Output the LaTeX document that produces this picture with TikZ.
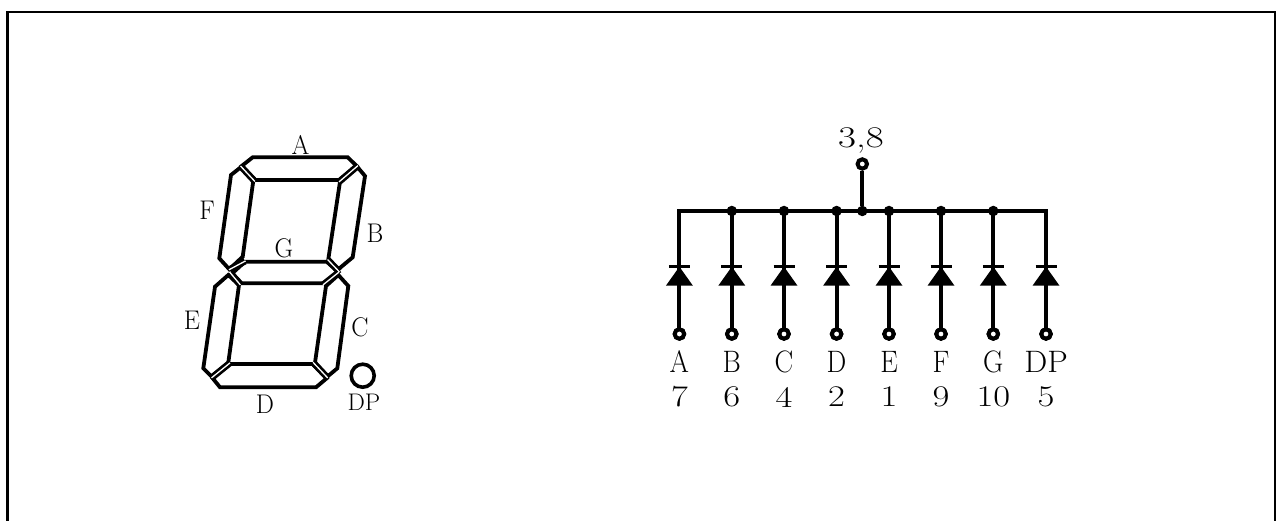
\documentclass[tikz,border=0pt]{standalone}
\usepackage{fontspec}
\setmainfont{Latin Modern Roman}
\begin{document}
\begin{tikzpicture}[x=1pt,y=-1pt,
  seg/.style={draw=black,line width=3.8pt,line join=miter,fill=white},
  gapblack/.style={draw=black,line width=6.6pt},
  gapwhite/.style={draw=white,line width=1.3pt,line cap=rect},
  wire/.style={draw=black,line width=4pt},
  framepath/.style={draw=black,line width=2.6pt,line join=miter},
  pinnode/.style={circle,draw=black,fill=white,line width=4pt,inner sep=0pt,minimum size=9.4pt},
  dotnode/.style={circle,fill=black,inner sep=0pt,minimum size=10.5pt},
  leftlabel/.style={inner sep=0pt,font=\fontsize{27}{27}\selectfont,transform shape,xscale=.95},
  smalllabel/.style={inner sep=0pt,font=\fontsize{24}{24}\selectfont,transform shape,xscale=1.02},
  pinlabel/.style={inner sep=0pt,font=\fontsize{31}{31}\selectfont,transform shape,xscale=.9},
  pinwide/.style={inner sep=0pt,font=\fontsize{31}{31}\selectfont,transform shape,xscale=1.05},
  pinnum/.style={inner sep=0pt,font=\fontsize{30}{30}\selectfont,transform shape,xscale=1.22},
  toplabel/.style={inner sep=0pt,font=\fontsize{30}{30}\selectfont,transform shape,xscale=1.3},
  diodebody/.style={fill=black,draw=none},
  diodebar/.style={draw=black,line width=3.6pt}]
\useasboundingbox (0,0) rectangle (1277,521);
\clip (0,0) rectangle (1277,521);
\coordinate (fbl) at (7.5,530); \coordinate (ftl) at (7.5,12);
\coordinate (ftr) at (1275,12); \coordinate (fbr) at (1275,530);
\draw[framepath] (fbl) -- (ftl) -- (ftr) -- (fbr);

% seven segments
\draw[seg] (252.7,157.3) -- (347.7,157.3) -- (356.7,166) -- (339,180) -- (255,180) -- (241.7,166) -- cycle;
\draw[seg] (240.7,167.3) -- (253.3,180.7) -- (242.7,256.7) -- (229.3,269.3) -- (219.3,258.3) -- (231,175) -- cycle;
\draw[seg] (357.7,167.3) -- (365,176) -- (352.7,257.3) -- (338.3,269.3) -- (328.3,259.3) -- (340,181.7) -- cycle;
\draw[seg] (245,261.7) -- (326.7,261.7) -- (338.3,272) -- (323.3,283.3) -- (241.7,283.3) -- (232.3,273.3) -- cycle;
\draw[seg] (228.3,275) -- (239,285) -- (228.3,362.7) -- (211.7,376.7) -- (203.3,368.3) -- (215,286.7) -- cycle;
\draw[seg] (338.3,275) -- (348.3,286) -- (337.3,368.3) -- (327.3,376.7) -- (315,362.7) -- (326,286) -- cycle;
\draw[seg] (212.7,378.3) -- (229.3,364) -- (312.7,364) -- (326.7,378.3) -- (316,387.3) -- (220,387.3) -- cycle;
\foreach \ax/\ay/\bx/\by in {241/166.5/254.5/181, 357.5/166/339.5/181.5, 229.5/269.5/245/261.2, 328/260/339/271.5, 230/272.5/240/284.5, 338.5/272.5/323.5/284.5, 212/377.5/229.5/363.3, 327.3/377.5/313.5/362.8}{
  \draw[gapblack] (\ax,\ay) -- (\bx,\by);
  \draw[gapwhite] (\ax,\ay) -- (\bx,\by);
}
\node[circle,draw=black,line width=3.6pt,inner sep=0pt,minimum size=23pt] (dpdot) at (362.7,375.7) {};

\node[leftlabel] (la) at (300.5,145) {A};
\node[leftlabel] (lf) at (207,210) {F};
\node[leftlabel] (lb) at (375,233) {B};
\node[leftlabel] (lg) at (284,248) {G};
\node[leftlabel] (le) at (192,320) {E};
\node[leftlabel] (lc) at (360,327) {C};
\node[leftlabel] (ld) at (265,404) {D};
\node[smalllabel] (ldp) at (364,402.5) {DP};

% common bus
\coordinate (busl) at (679.4,211);
\coordinate (busr) at (1046,211);
\draw[wire,line join=miter] (busl) -- (busr);
\node[pinnode] (pcom) at (862.3,164) {};
\node[dotnode] (jcom) at (862.3,211) {};
\draw[wire] (pcom) -- (jcom);
\node[toplabel] (lcom) at (861,140) {3,8};

\foreach \n/\x/\seg/\num/\sty in {a/679.4/A/7/pinlabel,b/731.8/B/6/pinlabel,c/784/C/4/pinlabel,d/836.6/D/2/pinlabel,e/889/E/1/pinlabel,f/941/F/9/pinlabel,g/993.3/G/10/pinlabel,h/1046/DP/5/pinwide}{
  \coordinate (top\n) at (\x,211);
  \coordinate (dk\n) at (\x,266.7);
  \node[pinnode] (pin\n) at (\x,334) {};
  \draw[wire,line cap=rect] (top\n) -- (pin\n);
  \fill[diodebody] (dk\n) ++(-13.5,19) -- ++(27,0) -- ++(-13.5,-19) -- cycle;
  \draw[diodebar] (dk\n) ++(-10.5,0) -- ++(21,0);
  \node[\sty] (s\n) at (\x,361.5) {\seg};
  \node[pinnum] (n\n) at (\x,397) {\num};
}
\foreach \n in {a,b,c,d,e,f,g,h}{\node[pinnode] at (pin\n) {};}
\foreach \n in {b,c,d,e,f,g}{\node[dotnode] at (top\n) {};}
\end{tikzpicture}
\end{document}
